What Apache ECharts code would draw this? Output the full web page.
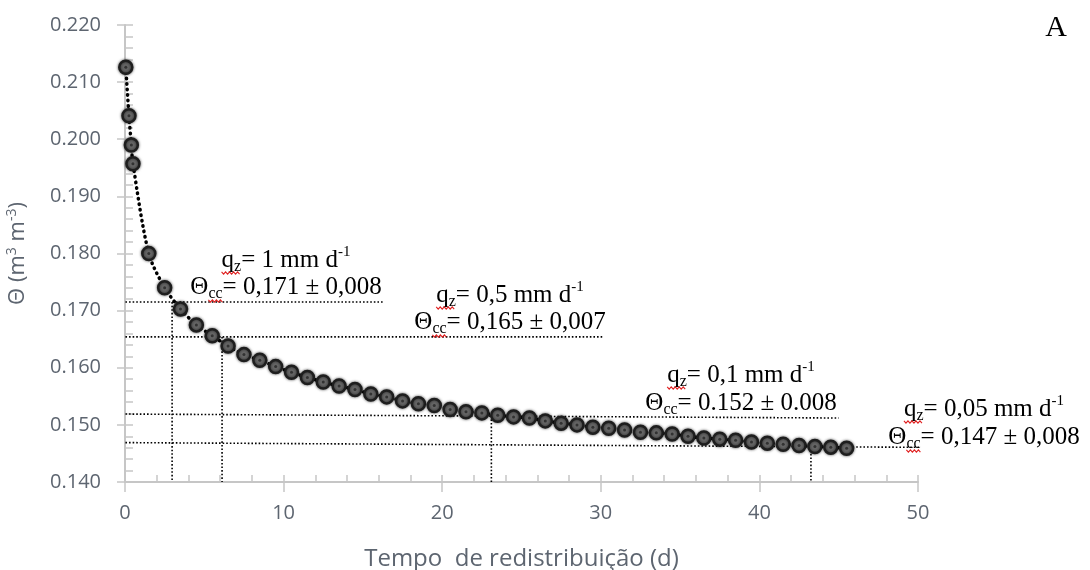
<!DOCTYPE html>
<html><head><meta charset="utf-8">
<script src="https://cdn.jsdelivr.net/npm/echarts@6/dist/echarts.min.js"></script>
<style>html,body{margin:0;padding:0;background:#fff}#c{width:1090px;height:570px}</style>
</head><body><div id="c"></div>
<script>
// Measured water content over redistribution time
const days = [0.05, 0.25, 0.4, 0.5, 1.5, 2.5, 3.5, 4.5, 5.5, 6.5, 7.5, 8.5, 9.5, 10.5, 11.5, 12.5, 13.5, 14.5, 15.5, 16.5,
  17.5, 18.5, 19.5, 20.5, 21.5, 22.5, 23.5, 24.5, 25.5, 26.5, 27.5, 28.5, 29.5, 30.5, 31.5, 32.5, 33.5, 34.5,
  35.5, 36.5, 37.5, 38.5, 39.5, 40.5, 41.5, 42.5, 43.5, 44.5, 45.5];
const theta = [0.2126, 0.2041, 0.1990, 0.1957, 0.1800, 0.1740, 0.1703, 0.1675, 0.1656, 0.1638, 0.1623, 0.1613, 0.1602, 0.1592,
  0.1583, 0.1575, 0.1568, 0.1562, 0.1554, 0.1549, 0.1542, 0.1537, 0.1534, 0.1527, 0.1523, 0.1521, 0.1517, 0.1514,
  0.1512, 0.1507, 0.1503, 0.1500, 0.1496, 0.1494, 0.1491, 0.1487, 0.1486, 0.1484, 0.1480, 0.1477, 0.1475, 0.1473,
  0.1470, 0.1468, 0.1466, 0.1464, 0.1462, 0.1461, 0.1459];

// Field-capacity annotations
const fluxText = ['1', '0,5', '0,1', '0,05'];
const ccText = ['0,171 ± 0,008', '0,165 ± 0,007', '0.152 ± 0.008', '0,147 ± 0,008'];
const ccSquiggle = [true, true, false, true];
const ccStart = [0.1715, 0.1654, 0.1519, 0.1469];
const ccEnd = [0.1715, 0.1654, 0.1512, 0.1459];
const lineStartDay = [-0.2, -0.2, -0.2, -0.2];
const lineEndDay = [16.3, 30.2, 45.0, 60.4];
const crossDay = [2.97, 6.12, 23.1, 43.25];
const crossTheta = [0.1715, 0.1654, 0.1516, 0.1462];
const annoCenter = [[286, 260, 287], [510, 295, 322], [741, 375, 403], [984, 409, 437]];

const axisGrey = '#c6c6c6';
const labelGrey = '#5d6570';
const serif = '"Liberation Serif", "Times New Roman", serif';
const sans = '"Open Sans", sans-serif';
const FS = 25, SUB = 16, SUP = 15;

const chart = echarts.init(document.getElementById('c'), null, {renderer: 'canvas'});

const refSeries = [];
for (let i = 0; i < ccStart.length; i++) {
  refSeries.push({
    type: 'line', silent: true, clip: false, symbol: 'none', z: 1,
    lineStyle: {color: '#000', width: 1.6, type: [1.6, 2]},
    data: [[lineStartDay[i], ccStart[i]], [lineEndDay[i], ccEnd[i]]]
  });
  refSeries.push({
    type: 'line', silent: true, clip: false, symbol: 'none', z: 1,
    lineStyle: {color: '#000', width: 1.6, type: [1.6, 2]},
    data: [[crossDay[i], crossTheta[i]], [crossDay[i], 0.140]]
  });
}

const mctx = document.createElement('canvas').getContext('2d');
function tw(s, size) { mctx.font = size + 'px ' + serif; return mctx.measureText(s).width; }
function squiggle(x0, x1, y) {
  const pts = [];
  let up = true;
  for (let x = x0; x <= x1 + 0.01; x += 2) { pts.push([x, y + (up ? -1.2 : 1.2)]); up = !up; }
  return {type: 'polyline', silent: true, z: 10, shape: {points: pts}, style: {stroke: '#e02020', lineWidth: 1.1, fill: null}};
}

const rich = {
  n: {fontFamily: serif, fontSize: FS, lineHeight: 30, color: '#000'},
  sub: {fontFamily: serif, fontSize: SUB, lineHeight: SUB, verticalAlign: 'bottom', color: '#000'},
  sup: {fontFamily: serif, fontSize: SUP, lineHeight: SUP, verticalAlign: 'top', color: '#000'}
};
const graphics = [];
for (let i = 0; i < fluxText.length; i++) {
  const [cx, y1, y2] = annoCenter[i];
  const l1 = '= ' + fluxText[i] + ' mm d';
  const w1 = tw('q', FS) + tw('z', SUB) + tw(l1, FS) + tw('-1', SUP);
  graphics.push({
    type: 'text', x: cx, y: y1, silent: true,
    style: {text: '{n|q}{sub|z}{n|' + l1 + '}{sup|-1}', rich, align: 'center', verticalAlign: 'middle'}
  });
  const left1 = cx - w1 / 2;
  graphics.push(squiggle(left1, left1 + tw('q', FS) + tw('z', SUB), y1 + 13));
  const l2 = '= ' + ccText[i];
  const w2 = tw('Θ', FS) + tw('cc', SUB) + tw(l2, FS);
  graphics.push({
    type: 'text', x: cx, y: y2, silent: true,
    style: {text: '{n|Θ}{sub|cc}{n|' + l2 + '}', rich, align: 'center', verticalAlign: 'middle'}
  });
  if (ccSquiggle[i]) {
    const left2 = cx - w2 / 2 + tw('Θ', FS);
    graphics.push(squiggle(left2, left2 + tw('cc', SUB), y2 + 14));
  }
}
graphics.push({
  type: 'text', x: 1056, y: 28, silent: true,
  style: {text: 'A', font: '30px ' + serif, fill: '#000', align: 'center', verticalAlign: 'middle'}
});

const xBase = {type: 'value', min: 0, max: 50, interval: 10, gridIndex: 0, position: 'bottom', splitLine: {show: false}};
const yBase = {type: 'value', min: 0.14, max: 0.22, interval: 0.01, gridIndex: 0, position: 'left', splitLine: {show: false}};

chart.setOption({
  animation: false,
  backgroundColor: '#fff',
  grid: {left: 125, right: 172, top: 25, bottom: 88, containLabel: false, outerBoundsMode: 'none'},
  xAxis: [
    Object.assign({}, xBase, {
      axisLine: {show: true, lineStyle: {color: axisGrey, width: 2}},
      axisTick: {show: true, inside: true, length: 7, lineStyle: {color: axisGrey, width: 1.5}},
      minorTick: {show: true, splitNumber: 5, length: 7, lineStyle: {color: axisGrey, width: 1.5}},
      axisLabel: {fontFamily: sans, fontSize: 20, color: labelGrey, margin: 21},
      name: 'Tempo  de redistribuição (d)', nameLocation: 'middle', nameGap: 65,
      nameTextStyle: {fontFamily: sans, fontSize: 24, color: labelGrey}
    }),
    Object.assign({}, xBase, {
      axisLine: {show: false},
      axisTick: {show: true, inside: false, length: 10, lineStyle: {color: axisGrey, width: 1.5}},
      axisLabel: {show: false}
    })
  ],
  yAxis: [
    Object.assign({}, yBase, {
      axisLine: {show: true, lineStyle: {color: axisGrey, width: 2}},
      axisTick: {show: true, inside: true, length: 8, lineStyle: {color: axisGrey, width: 1.5}},
      minorTick: {show: true, splitNumber: 5, length: 8, lineStyle: {color: axisGrey, width: 1.5}},
      axisLabel: {fontFamily: sans, fontSize: 20, color: labelGrey, margin: 24,
        formatter: v => v.toFixed(3)},
      name: 'Θ (m{sup|3} m{sup|-3})', nameLocation: 'middle', nameGap: 94, nameRotate: 90,
      nameTextStyle: {fontFamily: sans, fontSize: 22, lineHeight: 26, color: labelGrey,
        rich: {sup: {fontFamily: sans, fontSize: 14, lineHeight: 14, verticalAlign: 'top', color: labelGrey}}}
    }),
    Object.assign({}, yBase, {
      axisLine: {show: false},
      axisTick: {show: true, inside: false, length: 8, lineStyle: {color: axisGrey, width: 1.5}},
      axisLabel: {show: false}
    })
  ],
  series: refSeries.concat([
    {
      type: 'line', xAxisIndex: 0, yAxisIndex: 0, z: 3,
      data: days.map((d, i) => [d, theta[i]]),
      smooth: 0.3,
      symbol: 'circle', symbolSize: 13, showAllSymbol: true,
      lineStyle: {color: '#000', width: 3.5, type: [0.5, 5], cap: 'round'},
      itemStyle: {color: '#666666', borderColor: '#1e1e1e', borderWidth: 2.5, shadowBlur: 3, shadowColor: 'rgba(0,0,0,0.6)'}
    },
    {
      type: 'scatter', xAxisIndex: 0, yAxisIndex: 0, z: 4, silent: true,
      data: days.map((d, i) => [d, theta[i]]),
      symbolSize: 3, itemStyle: {color: '#262626'}
    }
  ]),
  graphic: graphics
});
</script></body></html>
